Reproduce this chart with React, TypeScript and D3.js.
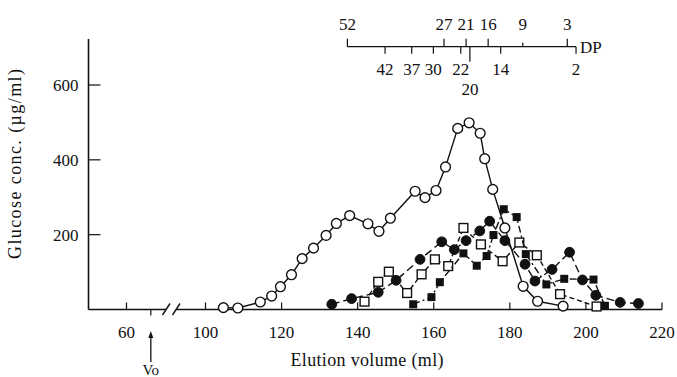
import React from 'react';
import * as d3 from 'd3';

// ---- data (elution volume in ml, glucose conc. in µg/ml) ----
const openCircleVol = [104.7, 108.5, 114.4, 117.4, 119.7, 122.6, 125.4, 128.4, 131.7, 134.4, 137.9, 142.7, 145.6, 148.6, 155.1, 157.7, 160.6, 163.1, 166.3, 169.3, 172.2, 173.4, 175.5, 178.7, 183.5, 187.3, 194.0];
const openCircleConc = [5, 4, 20, 36, 61, 93, 136, 164, 198, 230, 251, 229, 209, 244, 316, 299, 318, 381, 484, 499, 471, 403, 321, 218, 62, 22, 9];

const openSquareVol = [141.8, 145.4, 148.2, 153.0, 156.8, 160.3, 163.8, 167.8, 172.4, 178.1, 182.5, 187.1, 193.2, 202.8];
const openSquareConc = [21, 74, 101, 44, 94, 134, 116, 218, 174, 129, 179, 145, 41, 8];

const filledCircleVol = [133.2, 138.4, 145.4, 150.1, 156.4, 162.1, 165.4, 168.5, 172.1, 174.7, 178.7, 184.0, 186.6, 191.1, 195.7, 199.1, 202.6, 209.0, 213.8];
const filledCircleConc = [14, 29, 46, 78, 134, 181, 160, 184, 210, 236, 184, 121, 76, 107, 153, 79, 38, 19, 16];

const filledSquareVol = [154.6, 159.4, 161.6, 167.8, 171.3, 173.9, 175.7, 178.4, 181.8, 184.2, 189.6, 194.3, 202.0, 205.0];
const filledSquareConc = [14, 33, 73, 150, 117, 143, 199, 268, 247, 148, 67, 82, 80, 10];

const xTicksLeft = [60];
const xTicksRight = [100, 120, 140, 160, 180, 200, 220];
const yTicks = [200, 400, 600];

const dpUpperLabels = [52, 27, 21, 16, 9, 3];
const dpUpperVol = [137.3, 162.7, 168.5, 174.3, 183.4, 195.1];
const dpLowerLabels = [42, 37, 30, 22, 20, 14, 2];
const dpLowerVol = [147.2, 154.2, 159.9, 167.1, 169.5, 177.6, 197.4];

const voVolume = 66.4;

// ---- layout ----
const W = 677;
const H = 377;
const FONT = '"Liberation Serif", "Times New Roman", serif';

const xL = d3.scaleLinear().domain([50, 70]).range([88.5, 164.5]);
const xR = d3.scaleLinear().domain([100, 220]).range([205.5, 662]);
const y = d3.scaleLinear().domain([0, 600]).range([309.5, 85]);
const yTop = 39;
const axisY = y(0);
const dpY = 46.7;

type Series = { vol: number[]; conc: number[]; marker: 'oc' | 'fc' | 'os' | 'fs'; dash: string };
const series: Series[] = [
  { vol: openCircleVol, conc: openCircleConc, marker: 'oc', dash: '' },
  { vol: openSquareVol, conc: openSquareConc, marker: 'os', dash: '5,3' },
  { vol: filledCircleVol, conc: filledCircleConc, marker: 'fc', dash: '8,4' },
  { vol: filledSquareVol, conc: filledSquareConc, marker: 'fs', dash: '7,3,2,3' },
];

const line = d3
  .line<[number, number]>()
  .x((d) => xR(d[0]))
  .y((d) => y(d[1]));

function Marker({ kind, cx, cy }: { kind: string; cx: number; cy: number }) {
  const r = 4.9;
  const s = 8.8;
  if (kind === 'oc') return <circle cx={cx} cy={cy} r={r} fill="#fff" stroke="#111" strokeWidth={1.4} />;
  if (kind === 'fc') return <circle cx={cx} cy={cy} r={r} fill="#111" stroke="#111" strokeWidth={1} />;
  if (kind === 'os')
    return <rect x={cx - s / 2} y={cy - s / 2} width={s} height={s} fill="#fff" stroke="#111" strokeWidth={1.4} />;
  return <rect x={cx - s / 2 + 0.4} y={cy - s / 2 + 0.4} width={s - 0.8} height={s - 0.8} fill="#111" />;
}

export default function App() {
  const voX = xL(voVolume);
  return (
    <svg
      width={W}
      height={H}
      viewBox={`0 0 ${W} ${H}`}
      style={{ position: 'absolute', left: 0, top: 0, background: '#fff' }}
      fontFamily={FONT}
    >
      <rect x={0} y={0} width={W} height={H} fill="#fff" />
      {/* y axis */}
      <line x1={xL(50)} x2={xL(50)} y1={yTop} y2={axisY} stroke="#111" strokeWidth={1.6} />
      {yTicks.map((t) => (
        <g key={t}>
          <line x1={xL(50)} x2={xL(50) + 12} y1={y(t)} y2={y(t)} stroke="#111" strokeWidth={1.2} />
          <text x={xL(50) - 10} y={y(t) + 6} fontSize={17} textAnchor="end" fill="#111">
            {t}
          </text>
        </g>
      ))}
      <text
        transform={`translate(21,164) rotate(-90)`}
        fontSize={18}
        textAnchor="middle"
        fill="#111"
        textLength={190}
        lengthAdjust="spacing"
      >
        Glucose conc. (µg/ml)
      </text>

      {/* x axis with break */}
      <line x1={xL(50)} x2={166} y1={axisY} y2={axisY} stroke="#111" strokeWidth={1.6} />
      <line x1={176} x2={xR(220)} y1={axisY} y2={axisY} stroke="#111" strokeWidth={1.6} />
      <line x1={162.5} x2={170} y1={axisY + 5.5} y2={axisY - 6} stroke="#111" strokeWidth={1.4} />
      <line x1={172.5} x2={180} y1={axisY + 5.5} y2={axisY - 6} stroke="#111" strokeWidth={1.4} />
      {xTicksLeft.map((t) => (
        <g key={'l' + t}>
          <line x1={xL(t)} x2={xL(t)} y1={axisY} y2={axisY - 7} stroke="#111" strokeWidth={1.2} />
          <text x={xL(t)} y={338} fontSize={17} textAnchor="middle" fill="#111">
            {t}
          </text>
        </g>
      ))}
      {xTicksRight.map((t) => (
        <g key={'r' + t}>
          <line x1={xR(t)} x2={xR(t)} y1={axisY} y2={axisY - 7} stroke="#111" strokeWidth={1.2} />
          <text x={xR(t)} y={338} fontSize={17} textAnchor="middle" fill="#111">
            {t}
          </text>
        </g>
      ))}
      <text x={367} y={366} fontSize={18} textAnchor="middle" fill="#111" textLength={153} lengthAdjust="spacing">
        Elution volume (ml)
      </text>

      {/* Vo marker */}
      <line x1={voX} x2={voX} y1={axisY} y2={axisY + 6} stroke="#111" strokeWidth={1.2} />
      <line x1={voX} x2={voX} y1={336} y2={362} stroke="#111" strokeWidth={1.3} />
      <path d={`M${voX},331 L${voX - 2.5},338 L${voX + 2.5},338 Z`} fill="#111" />
      <text x={voX} y={375} fontSize={15} textAnchor="middle" fill="#111">
        Vo
      </text>

      {/* DP axis */}
      <line x1={xR(dpUpperVol[0])} x2={xR(dpLowerVol[dpLowerVol.length - 1])} y1={dpY} y2={dpY} stroke="#111" strokeWidth={1.3} />
      {dpUpperVol.map((v, i) => (
        <g key={'u' + i}>
          <line x1={xR(v)} x2={xR(v)} y1={dpY} y2={dpY - (dpUpperLabels[i] === 9 ? 4 : 8)} stroke="#111" strokeWidth={1.2} />
          <text x={xR(v)} y={30} fontSize={17} textAnchor="middle" fill="#111">
            {dpUpperLabels[i]}
          </text>
        </g>
      ))}
      {dpLowerVol.map((v, i) => {
        const long = dpLowerLabels[i] === 20;
        return (
          <g key={'d' + i}>
            <line x1={xR(v)} x2={xR(v)} y1={dpY} y2={dpY + (long ? 15 : 7)} stroke="#111" strokeWidth={1.2} />
            <text x={xR(v)} y={long ? 95 : 75} fontSize={17} textAnchor="middle" fill="#111">
              {dpLowerLabels[i]}
            </text>
          </g>
        );
      })}
      <text x={580} y={53} fontSize={17} fill="#111">
        DP
      </text>

      {/* series */}
      {series.map((s, si) => {
        const pts = s.vol.map((v, i) => [v, s.conc[i]] as [number, number]);
        return (
          <g key={si}>
            <path d={line(pts) || ''} fill="none" stroke="#111" strokeWidth={1.4} strokeDasharray={s.dash || undefined} />
            {pts.map((p, i) => (
              <Marker key={i} kind={s.marker} cx={xR(p[0])} cy={y(p[1])} />
            ))}
          </g>
        );
      })}
    </svg>
  );
}
